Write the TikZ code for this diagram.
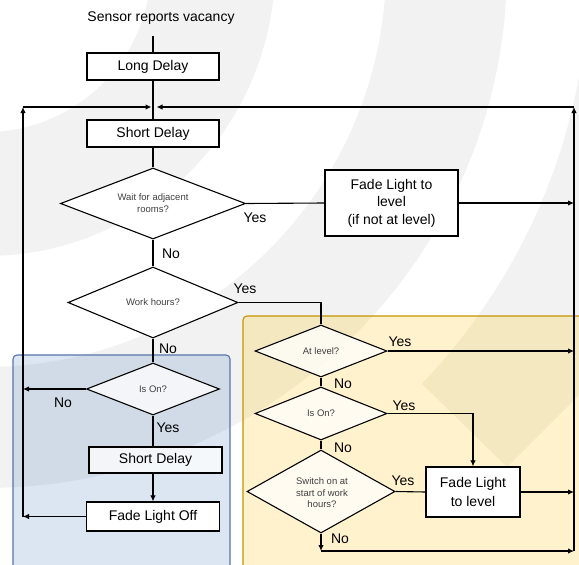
\documentclass[tikz,border=0pt]{standalone}
\usepackage{fontspec}
\setmainfont{Liberation Sans}
\usetikzlibrary{shapes.geometric,arrows.meta}
\definecolor{boxblue}{RGB}{79,129,189}
\definecolor{boxgold}{RGB}{255,192,0}
\definecolor{edgeblue}{RGB}{84,118,170}
\definecolor{edgegold}{RGB}{196,148,0}

\begin{document}
\begin{tikzpicture}[x=1pt,y=-1pt,
  proc/.style={draw,line width=1.2pt,fill=white,inner sep=0pt,minimum width=132pt,minimum height=27pt,align=center,font=\fontsize{14}{17.5}\selectfont},
  query/.style={draw,diamond,aspect=2,line width=1.1pt,fill=white,inner sep=0pt,align=center,text=black!75,font=\fontsize{9.5}{12}\selectfont},
  ans/.style={font=\fontsize{14}{16}\selectfont},
  flow/.style={line width=1.1pt},
  arr/.style={flow,-{Latex[length=6pt,width=5.5pt]}},
  inbox/.style={fill opacity=.75,text opacity=1}]
\useasboundingbox (0,0) rectangle (579,565);
% background rings
\def\ringC{(-14,-33)}
\begin{scope}
  \clip (0,0) rectangle (579,565);
  \fill[black!5,even odd rule] \ringC circle (289pt) \ringC circle (165pt);
  \fill[black!5,even odd rule] \ringC circle (521pt) \ringC circle (400pt);
  \begin{scope}
    \clip (300,-10) -- (600,-10) -- (600,374) -- (507,467) -- (420,382) -- (300,262) -- cycle;
    \fill[black!5,even odd rule] \ringC circle (1000pt) \ringC circle (603pt);
  \end{scope}
\end{scope}
% groups
\draw[edgeblue,line width=1.1pt,rounded corners=4pt,fill=boxblue,fill opacity=.2] (13,355) rectangle (230,572);
\draw[edgegold,line width=1.1pt,rounded corners=4pt,fill=boxgold,fill opacity=.2] (243,316) rectangle (590,572);
% main column
\node[ans] (start) at (161,18) {Sensor reports vacancy};
\coordinate (top) at (153,36);
\node[proc] (long) at (153,66.5) {Long Delay};
\node[proc] (short) at (153,133.5) {Short Delay};
\node[query,minimum width=185pt,minimum height=71pt] (wait) at (153,203.5) {Wait for adjacent\\rooms?};
\node[proc,minimum width=133pt,minimum height=66pt] (fade) at (391.5,203) {Fade Light to\\level\\(if not at level)};
\node[query,minimum width=170pt,minimum height=71pt] (work) at (153,302.5) {Work hours?};
% blue group
\node[query,inbox,minimum width=133pt,minimum height=52pt] (ison) at (153,389) {Is On?};
\node[proc,inbox,minimum width=133pt,minimum height=26pt] (short2) at (155.5,460) {Short Delay};
\node[proc,minimum width=133pt,minimum height=29pt] (off) at (153,516.5) {Fade Light Off};
% yellow group
\node[query,inbox,minimum width=132pt,minimum height=52pt] (atlevel) at (321,351) {At level?};
\node[query,inbox,minimum width=132pt,minimum height=53pt] (ison2) at (321,413.5) {Is On?};
\node[query,inbox,minimum width=148pt,minimum height=83pt] (switch) at (321,491.5) {};
\begin{scope}
  \clip (240,440) rectangle (400,506);
  \node[align=center,text=black!75,font=\fontsize{9.5}{11.5}\selectfont] (switchtxt) at (322,493) {Switch on at\\start of work\\hours?};
\end{scope}
\node[proc,minimum width=94pt,minimum height=50pt,font=\fontsize{14}{19}\selectfont] (fadelvl) at (473,492) {Fade Light\\to level};
% loop points
\coordinate (join) at (153,107);
\coordinate (lt) at (23,107);
\coordinate (lb) at (23,517);
\coordinate (rt) at (574,107);
\coordinate (rb) at (574,551);
\coordinate (swend) at (321,551);
% connectors
\draw[flow] (top) -- (long);
\draw[flow] (long) -- (short);
\draw[arr] (lb) -- (lt);
\draw[arr] (lt) -- ([xshift=-1.5pt]join);
\draw[arr] (rb) -- (rt);
\draw[arr] (rt) -- ([xshift=3.5pt]join);
\draw[flow] (short) -- (wait);
\draw[flow] (wait.east) -- (fade.west);
\draw[arr] (fade.east) -- (fade.east -| rb);
\draw[flow] (wait) -- (work);
\draw[flow] (work.east) -| (atlevel.north);
\draw[flow] (work) -- (ison);
\draw[arr] (ison.west) -- (ison.west -| lb);
\draw[flow] (ison.south) -- (ison.south |- short2.north);
\draw[arr] (off.north |- short2.south) -- (off.north);
\draw[arr] (off.west) -- (off.west -| lb);
\draw[arr] (atlevel.east) -- (atlevel.east -| rb);
\draw[flow] (atlevel) -- (ison2);
\draw[arr] (ison2.east) -| (fadelvl.north);
\draw[flow] (ison2) -- (switch);
\draw[flow] (switch.east) -- (fadelvl.west);
\draw[arr] (fadelvl.east) -- (fadelvl.east -| rb);
\draw[arr] (switch.south) -- (swend);
\draw[arr] (swend) -- (rb);
% answers
\node[ans] (waityes) at (255,218) {Yes};
\node[ans] (waitno) at (171,254) {No};
\node[ans] (workyes) at (245,289) {Yes};
\node[ans] (workno) at (168,349) {No};
\node[ans] (isonno) at (63,403) {No};
\node[ans] (isonyes) at (168,428) {Yes};
\node[ans] (atlevelyes) at (400,342) {Yes};
\node[ans] (atlevelno) at (343,384) {No};
\node[ans] (ison2yes) at (404,406) {Yes};
\node[ans] (ison2no) at (343,448) {No};
\node[ans] (switchyes) at (403,481) {Yes};
\node[ans] (switchno) at (340,539) {No};
\end{tikzpicture}
\end{document}
